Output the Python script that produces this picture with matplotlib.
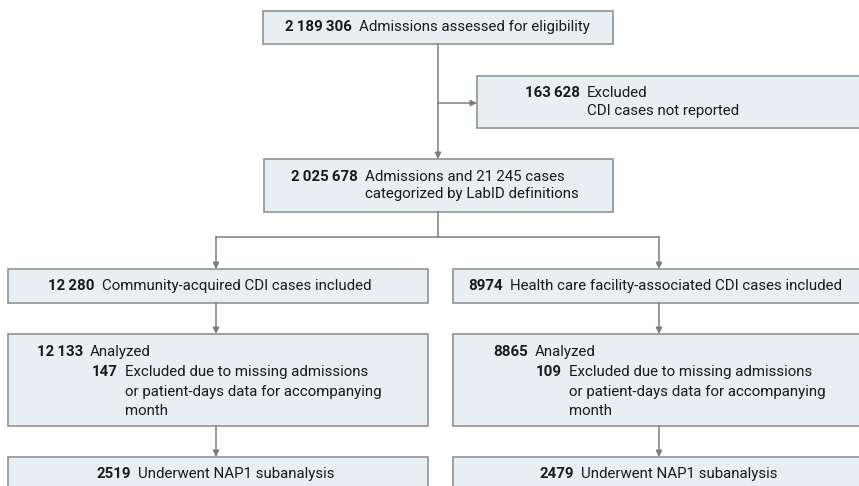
import matplotlib.pyplot as plt
from matplotlib.patches import Rectangle

plt.rcParams['font.family'] = ['Roboto', 'DejaVu Sans']

# flow counts (thin spaces as in the figure)
n_assessed = "2\u2009189\u2009306"
n_excluded = "163\u2009628"
n_labid = "2\u2009025\u2009678"
n_community = "12\u2009280"
n_facility = "8974"
n_analyzed = ["12\u2009133", "8865"]
n_missing = ["147", "109"]
n_nap1 = ["2519", "2479"]

txt_assessed = "Admissions assessed for eligibility"
txt_excluded = ["Excluded", "CDI cases not reported"]
txt_labid = ["Admissions and 21\u2009245 cases", "categorized by LabID definitions"]
txt_community = "Community-acquired CDI cases included"
txt_facility = "Health care facility-associated CDI cases included"
txt_missing = ["Excluded due to missing admissions",
               "or patient-days data for accompanying",
               "month"]
txt_nap1 = "Underwent NAP1 subanalysis"

FILL = "#e8eef2"
EDGE = "#8f9396"
LINE = "#7d7d7d"
FS = 10.8
TC = "#1a1a1a"

fig = plt.figure(figsize=(8.59, 4.86), dpi=100)
ax = fig.add_axes([0, 0, 1, 1])
ax.set_xlim(0, 859)
ax.set_ylim(486, 0)
ax.axis("off")


def box(x0, y0, x1, y1):
    ax.add_patch(Rectangle((x0, y0), x1 - x0, y1 - y0, facecolor=FILL,
                           edgecolor=EDGE, linewidth=1.2))


def pair(xs, y, num, text):
    ax.text(xs, y, num, ha="right", va="center", fontsize=FS, fontweight="bold", color=TC)
    ax.text(xs + 7, y, text, ha="left", va="center", fontsize=FS, color=TC)


def arrow(x0, y0, x1, y1):
    ax.annotate("", xy=(x1, y1), xytext=(x0, y0),
                arrowprops=dict(arrowstyle="-|>", color=LINE, lw=1.1,
                                mutation_scale=9, shrinkA=0, shrinkB=0))


# top
box(263, 11, 613, 44)
pair(352, 27, n_assessed, txt_assessed)
arrow(438, 44, 438, 159)
box(477, 76, 880, 128)
arrow(438, 103, 477, 103)
pair(580, 93, n_excluded, txt_excluded[0])
ax.text(587, 111, txt_excluded[1], ha="left", va="center", fontsize=FS, color=TC)

box(264, 159, 613, 212)
pair(358, 177, n_labid, txt_labid[0])
ax.text(365, 194, txt_labid[1], ha="left", va="center", fontsize=FS, color=TC)

# split
ax.plot([438, 438], [212, 237], color=LINE, lw=1.1)
ax.plot([216, 659], [237, 237], color=LINE, lw=1.1)
arrow(216, 237, 216, 269)
arrow(659, 237, 659, 269)

cols = [(8, 428, 216), (453, 880, 659)]
box(8, 269, 428, 303)
pair(95, 286, n_community, txt_community)
box(453, 269, 880, 303)
pair(503, 286, n_facility, txt_facility)

splits = [(83, 118), (528, 562)]
for i, (x0, x1, xc) in enumerate(cols):
    arrow(xc, 303, xc, 334)
    box(x0, 334, x1, 426)
    s1, s2 = splits[i]
    pair(s1, 352, n_analyzed[i], "Analyzed")
    pair(s2, 372, n_missing[i], txt_missing[0])
    ax.text(s2 + 7, 392, txt_missing[1], ha="left", va="center", fontsize=FS, color=TC)
    ax.text(s2 + 7, 411, txt_missing[2], ha="left", va="center", fontsize=FS, color=TC)
    arrow(xc, 426, xc, 457)
    box(x0, 457, x1, 500)
    pair(xc - 85, 474, n_nap1[i], txt_nap1)

fig.savefig("out.png", dpi=100)
